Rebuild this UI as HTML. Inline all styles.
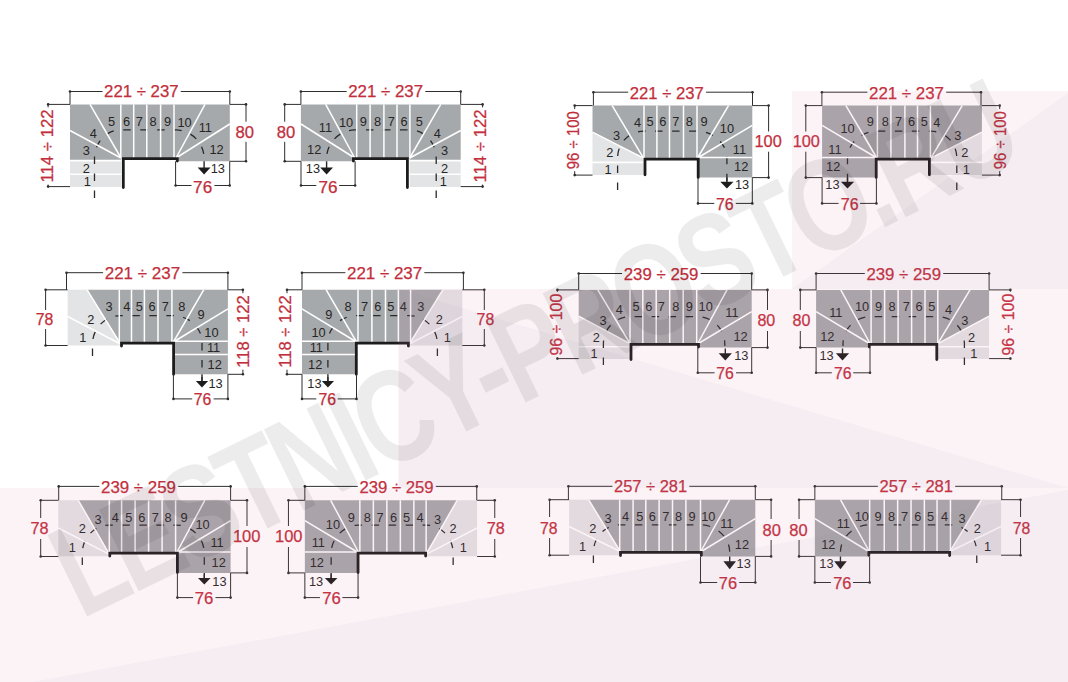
<!DOCTYPE html>
<html><head><meta charset="utf-8"><style>
html,body{margin:0;padding:0;background:#fff;}
svg{display:block;}
text{font-family:"Liberation Sans",sans-serif;}
.r{fill:#c22e3b;stroke:#c22e3b;stroke-width:0.25px;font-size:16.8px;}
.l{fill:#262626;font-size:12.8px;text-anchor:middle;}
</style></head><body>
<svg width="1068" height="682" viewBox="0 0 1068 682">
<rect width="1068" height="682" fill="#fff"/>
<polygon fill="#a6a9ab" points="70,104.4 229.8,104.4 229.8,161.3 176.5,161.3 176.5,158.5 121,158.5 121,159.8 70,159.8"/>
<polygon fill="#e3e4e5" points="70,161.5 121,161.5 121,173.4 70,173.4"/>
<polygon fill="#e3e4e5" points="70,175 121,175 121,186.9 70,186.9"/>
<path d="M94.5,198 L94.5,158 C94.5,143 106,129.9 121,129.9 L176,129.9 C191,129.9 204.1,143 204.1,158 L204.1,163" fill="none" stroke="#2a2a2a" stroke-width="1.3" stroke-dasharray="7.5 9.5"/>
<g stroke="#fff" stroke-width="1.5">
<line x1="121" y1="158" x2="70" y2="130.5"/>
<line x1="121" y1="158" x2="90" y2="104.4"/>
<line x1="176" y1="158" x2="205" y2="104.4"/>
<line x1="176" y1="158" x2="229.8" y2="124"/>
<line x1="120.8" y1="104.4" x2="120.8" y2="158"/>
<line x1="133.7" y1="104.4" x2="133.7" y2="158"/>
<line x1="146.8" y1="104.4" x2="146.8" y2="158"/>
<line x1="160.6" y1="104.4" x2="160.6" y2="158"/>
<line x1="174" y1="104.4" x2="174" y2="158"/>
</g>
<polyline fill="none" stroke="#1c1c1c" stroke-width="2.8" stroke-linecap="round" stroke-linejoin="miter" points="123.3,187.5 123.3,158.6 177.3,158.6 177.3,161"/>
<g stroke="#2e2e2e" stroke-width="1">
<line x1="70" y1="91.5" x2="102.5" y2="91.5"/>
<line x1="180.8" y1="91.5" x2="229.8" y2="91.5"/>
<line x1="70" y1="91.5" x2="70" y2="104.4"/>
<line x1="229.8" y1="91.5" x2="229.8" y2="104.4"/>
<line x1="48.1" y1="104.4" x2="48.1" y2="107.4"/>
<line x1="48.1" y1="184.6" x2="48.1" y2="186.6"/>
<line x1="48.1" y1="104.4" x2="70" y2="104.4"/>
<line x1="48.1" y1="186.6" x2="70" y2="186.6"/>
<line x1="246" y1="104.4" x2="246" y2="121.7"/>
<line x1="246" y1="141.8" x2="246" y2="161.3"/>
<line x1="246" y1="104.4" x2="229.8" y2="104.4"/>
<line x1="246" y1="161.3" x2="229.8" y2="161.3"/>
<line x1="175.6" y1="185.5" x2="191.5" y2="185.5"/>
<line x1="214.4" y1="185.5" x2="229.7" y2="185.5"/>
<line x1="175.6" y1="185.5" x2="175.6" y2="161.3"/>
<line x1="229.7" y1="185.5" x2="229.7" y2="161.3"/>
</g>
<circle cx="70" cy="91.5" r="1.3" fill="#2e2e2e"/>
<circle cx="229.8" cy="91.5" r="1.3" fill="#2e2e2e"/>
<circle cx="48.1" cy="104.4" r="1.3" fill="#2e2e2e"/>
<circle cx="48.1" cy="186.6" r="1.3" fill="#2e2e2e"/>
<circle cx="246" cy="104.4" r="1.3" fill="#2e2e2e"/>
<circle cx="246" cy="161.3" r="1.3" fill="#2e2e2e"/>
<circle cx="175.6" cy="185.5" r="1.3" fill="#2e2e2e"/>
<circle cx="229.7" cy="185.5" r="1.3" fill="#2e2e2e"/>
<line x1="204.1" y1="161.3" x2="204.1" y2="168.5" stroke="#262626" stroke-width="1.4"/>
<polygon fill="#1c1c1c" points="197.7,167.5 210.5,167.5 204.1,174.5"/>
<text x="87.3" y="186.25" class="l">1</text>
<text x="86.2" y="172.75" class="l">2</text>
<text x="86.2" y="155.05" class="l">3</text>
<text x="93.3" y="137.55" class="l">4</text>
<text x="111.5" y="126.05" class="l">5</text>
<text x="126.6" y="125.75" class="l">6</text>
<text x="139.4" y="125.75" class="l">7</text>
<text x="153.1" y="125.75" class="l">8</text>
<text x="167.5" y="125.75" class="l">9</text>
<text x="184.6" y="126.95" class="l">10</text>
<text x="205.3" y="132.35" class="l">11</text>
<text x="216.5" y="154.35" class="l">12</text>
<text x="217.8" y="173.05" class="l">13</text>
<text x="104.1" y="97.1" class="r" textLength="74.5" lengthAdjust="spacingAndGlyphs">221 ÷ 237</text>
<text transform="translate(53.1,182.6) rotate(-90)" class="r" textLength="73.2" lengthAdjust="spacingAndGlyphs">114 ÷ 122</text>
<text x="235.5" y="137.9" class="r" textLength="18.5" lengthAdjust="spacingAndGlyphs">80</text>
<text x="193.1" y="192.9" class="r" textLength="19.1" lengthAdjust="spacingAndGlyphs">76</text>
<polygon fill="#a6a9ab" points="460.7,104.4 300.9,104.4 300.9,161.3 354.2,161.3 354.2,158.5 409.7,158.5 409.7,159.8 460.7,159.8"/>
<polygon fill="#e3e4e5" points="460.7,161.5 409.7,161.5 409.7,173.4 460.7,173.4"/>
<polygon fill="#e3e4e5" points="460.7,175 409.7,175 409.7,186.9 460.7,186.9"/>
<path d="M436.2,198 L436.2,158 C436.2,143 424.7,129.9 409.7,129.9 L354.7,129.9 C339.7,129.9 326.6,143 326.6,158 L326.6,163" fill="none" stroke="#2a2a2a" stroke-width="1.3" stroke-dasharray="7.5 9.5"/>
<g stroke="#fff" stroke-width="1.5">
<line x1="409.7" y1="158" x2="460.7" y2="130.5"/>
<line x1="409.7" y1="158" x2="440.7" y2="104.4"/>
<line x1="354.7" y1="158" x2="325.7" y2="104.4"/>
<line x1="354.7" y1="158" x2="300.9" y2="124"/>
<line x1="409.9" y1="104.4" x2="409.9" y2="158"/>
<line x1="397" y1="104.4" x2="397" y2="158"/>
<line x1="383.9" y1="104.4" x2="383.9" y2="158"/>
<line x1="370.1" y1="104.4" x2="370.1" y2="158"/>
<line x1="356.7" y1="104.4" x2="356.7" y2="158"/>
</g>
<polyline fill="none" stroke="#1c1c1c" stroke-width="2.8" stroke-linecap="round" stroke-linejoin="miter" points="407.4,187.5 407.4,158.6 353.4,158.6 353.4,161"/>
<g stroke="#2e2e2e" stroke-width="1">
<line x1="460.7" y1="91.5" x2="425.3" y2="91.5"/>
<line x1="346.6" y1="91.5" x2="300.9" y2="91.5"/>
<line x1="460.7" y1="91.5" x2="460.7" y2="104.4"/>
<line x1="300.9" y1="91.5" x2="300.9" y2="104.4"/>
<line x1="482.6" y1="104.4" x2="482.6" y2="107.4"/>
<line x1="482.6" y1="184.6" x2="482.6" y2="186.6"/>
<line x1="482.6" y1="104.4" x2="460.7" y2="104.4"/>
<line x1="482.6" y1="186.6" x2="460.7" y2="186.6"/>
<line x1="284.7" y1="104.4" x2="284.7" y2="121.7"/>
<line x1="284.7" y1="141.8" x2="284.7" y2="161.3"/>
<line x1="284.7" y1="104.4" x2="300.9" y2="104.4"/>
<line x1="284.7" y1="161.3" x2="300.9" y2="161.3"/>
<line x1="355.1" y1="185.5" x2="339.2" y2="185.5"/>
<line x1="316.3" y1="185.5" x2="301" y2="185.5"/>
<line x1="355.1" y1="185.5" x2="355.1" y2="161.3"/>
<line x1="301" y1="185.5" x2="301" y2="161.3"/>
</g>
<circle cx="460.7" cy="91.5" r="1.3" fill="#2e2e2e"/>
<circle cx="300.9" cy="91.5" r="1.3" fill="#2e2e2e"/>
<circle cx="482.6" cy="104.4" r="1.3" fill="#2e2e2e"/>
<circle cx="482.6" cy="186.6" r="1.3" fill="#2e2e2e"/>
<circle cx="284.7" cy="104.4" r="1.3" fill="#2e2e2e"/>
<circle cx="284.7" cy="161.3" r="1.3" fill="#2e2e2e"/>
<circle cx="355.1" cy="185.5" r="1.3" fill="#2e2e2e"/>
<circle cx="301" cy="185.5" r="1.3" fill="#2e2e2e"/>
<line x1="326.6" y1="161.3" x2="326.6" y2="168.5" stroke="#262626" stroke-width="1.4"/>
<polygon fill="#1c1c1c" points="320.2,167.5 333,167.5 326.6,174.5"/>
<text x="443.4" y="186.25" class="l">1</text>
<text x="444.5" y="172.75" class="l">2</text>
<text x="444.5" y="155.05" class="l">3</text>
<text x="437.4" y="137.55" class="l">4</text>
<text x="419.2" y="126.05" class="l">5</text>
<text x="404.1" y="125.75" class="l">6</text>
<text x="391.3" y="125.75" class="l">7</text>
<text x="377.6" y="125.75" class="l">8</text>
<text x="363.2" y="125.75" class="l">9</text>
<text x="346.1" y="126.95" class="l">10</text>
<text x="325.4" y="132.35" class="l">11</text>
<text x="314.2" y="154.35" class="l">12</text>
<text x="312.9" y="173.05" class="l">13</text>
<text x="348.2" y="97.1" class="r" textLength="74.9" lengthAdjust="spacingAndGlyphs">221 ÷ 237</text>
<text transform="translate(486.3,182.6) rotate(-90)" class="r" textLength="73.2" lengthAdjust="spacingAndGlyphs">114 ÷ 122</text>
<text x="276.7" y="137.9" class="r" textLength="18.5" lengthAdjust="spacingAndGlyphs">80</text>
<text x="318.5" y="192.9" class="r" textLength="19.1" lengthAdjust="spacingAndGlyphs">76</text>
<polygon fill="#a6a9ab" points="592.5,105.6 752.3,105.6 752.3,177.6 698,177.6 698,159 643.5,159 643.5,158.2 592.5,132.1"/>
<polygon fill="#e3e4e5" points="592.5,132.1 643.5,158.2 643.5,161.6 592.5,161.6"/>
<polygon fill="#e3e4e5" points="592.5,163.3 643.5,163.3 643.5,175.1 592.5,175.1"/>
<path d="M617.6,190 L617.6,158 C617.6,143 629,131.2 643.5,131.2 L697.5,131.2 C712,131.2 726.9,143 726.9,158 L726.9,182" fill="none" stroke="#2a2a2a" stroke-width="1.3" stroke-dasharray="7.5 9.5"/>
<g stroke="#fff" stroke-width="1.5">
<line x1="592.5" y1="132.1" x2="643.5" y2="158.2"/>
<line x1="612.2" y1="105.6" x2="643.5" y2="158.2"/>
<line x1="697.5" y1="158" x2="728.5" y2="105.6"/>
<line x1="697.5" y1="158" x2="752.3" y2="125.3"/>
<line x1="697.5" y1="157.6" x2="752.3" y2="157.6"/>
<line x1="644" y1="105.6" x2="644" y2="158.5"/>
<line x1="656.9" y1="105.6" x2="656.9" y2="158.5"/>
<line x1="669.5" y1="105.6" x2="669.5" y2="158.5"/>
<line x1="683.5" y1="105.6" x2="683.5" y2="158.5"/>
<line x1="697" y1="105.6" x2="697" y2="158.5"/>
</g>
<polyline fill="none" stroke="#1c1c1c" stroke-width="2.8" stroke-linecap="round" stroke-linejoin="miter" points="645,174.8 645,159.2 698.2,159.2 698.2,177.4"/>
<g stroke="#2e2e2e" stroke-width="1">
<line x1="593.4" y1="92.2" x2="628.2" y2="92.2"/>
<line x1="706" y1="92.2" x2="752.5" y2="92.2"/>
<line x1="593.4" y1="92.2" x2="593.4" y2="105.6"/>
<line x1="752.5" y1="92.2" x2="752.5" y2="105.6"/>
<line x1="574.7" y1="105.6" x2="574.7" y2="109.1"/>
<line x1="574.7" y1="171.2" x2="574.7" y2="175.1"/>
<line x1="574.7" y1="105.6" x2="592.5" y2="105.6"/>
<line x1="574.7" y1="175.1" x2="592.5" y2="175.1"/>
<line x1="768.6" y1="105.6" x2="768.6" y2="131.5"/>
<line x1="768.6" y1="151.7" x2="768.6" y2="177.6"/>
<line x1="768.6" y1="105.6" x2="752.3" y2="105.6"/>
<line x1="768.6" y1="177.6" x2="752.3" y2="177.6"/>
<line x1="698" y1="203.4" x2="714.3" y2="203.4"/>
<line x1="735.8" y1="203.4" x2="752.3" y2="203.4"/>
<line x1="698" y1="203.4" x2="698" y2="177.6"/>
<line x1="752.3" y1="203.4" x2="752.3" y2="177.6"/>
</g>
<circle cx="593.4" cy="92.2" r="1.3" fill="#2e2e2e"/>
<circle cx="752.5" cy="92.2" r="1.3" fill="#2e2e2e"/>
<circle cx="574.7" cy="105.6" r="1.3" fill="#2e2e2e"/>
<circle cx="574.7" cy="175.1" r="1.3" fill="#2e2e2e"/>
<circle cx="768.6" cy="105.6" r="1.3" fill="#2e2e2e"/>
<circle cx="768.6" cy="177.6" r="1.3" fill="#2e2e2e"/>
<circle cx="698" cy="203.4" r="1.3" fill="#2e2e2e"/>
<circle cx="752.3" cy="203.4" r="1.3" fill="#2e2e2e"/>
<line x1="726.9" y1="177.6" x2="726.9" y2="182.8" stroke="#262626" stroke-width="1.4"/>
<polygon fill="#1c1c1c" points="720.3,181.8 733.5,181.8 726.9,188.5"/>
<text x="608" y="173.55" class="l">1</text>
<text x="609.7" y="156.85" class="l">2</text>
<text x="616.5" y="139.95" class="l">3</text>
<text x="637.6" y="127.35" class="l">4</text>
<text x="650.1" y="126.45" class="l">5</text>
<text x="662.8" y="126.45" class="l">6</text>
<text x="675.8" y="126.45" class="l">7</text>
<text x="689.2" y="126.45" class="l">8</text>
<text x="704.1" y="126.45" class="l">9</text>
<text x="726.9" y="133.25" class="l">10</text>
<text x="739.5" y="154.35" class="l">11</text>
<text x="741.2" y="171.15" class="l">12</text>
<text x="742" y="189.05" class="l">13</text>
<text x="629.8" y="98.7" class="r" textLength="74" lengthAdjust="spacingAndGlyphs">221 ÷ 237</text>
<text transform="translate(578.55,169.2) rotate(-90)" class="r" textLength="58.1" lengthAdjust="spacingAndGlyphs">96 ÷ 100</text>
<text x="754.5" y="146.8" class="r" textLength="27.2" lengthAdjust="spacingAndGlyphs">100</text>
<text x="715.9" y="210.3" class="r" textLength="17.7" lengthAdjust="spacingAndGlyphs">76</text>
<polygon fill="#a6a9ab" points="981.9,105.6 822.1,105.6 822.1,177.6 876.4,177.6 876.4,159 930.9,159 930.9,158.2 981.9,132.1"/>
<polygon fill="#e3e4e5" points="981.9,132.1 930.9,158.2 930.9,161.6 981.9,161.6"/>
<polygon fill="#e3e4e5" points="981.9,163.3 930.9,163.3 930.9,175.1 981.9,175.1"/>
<path d="M956.8,190 L956.8,158 C956.8,143 945.4,131.2 930.9,131.2 L876.9,131.2 C862.4,131.2 847.5,143 847.5,158 L847.5,182" fill="none" stroke="#2a2a2a" stroke-width="1.3" stroke-dasharray="7.5 9.5"/>
<g stroke="#fff" stroke-width="1.5">
<line x1="981.9" y1="132.1" x2="930.9" y2="158.2"/>
<line x1="962.2" y1="105.6" x2="930.9" y2="158.2"/>
<line x1="876.9" y1="158" x2="845.9" y2="105.6"/>
<line x1="876.9" y1="158" x2="822.1" y2="125.3"/>
<line x1="876.9" y1="157.6" x2="822.1" y2="157.6"/>
<line x1="930.4" y1="105.6" x2="930.4" y2="158.5"/>
<line x1="917.5" y1="105.6" x2="917.5" y2="158.5"/>
<line x1="904.9" y1="105.6" x2="904.9" y2="158.5"/>
<line x1="890.9" y1="105.6" x2="890.9" y2="158.5"/>
<line x1="877.4" y1="105.6" x2="877.4" y2="158.5"/>
</g>
<polyline fill="none" stroke="#1c1c1c" stroke-width="2.8" stroke-linecap="round" stroke-linejoin="miter" points="929.4,174.8 929.4,159.2 876.2,159.2 876.2,177.4"/>
<g stroke="#2e2e2e" stroke-width="1">
<line x1="981" y1="92.2" x2="946.2" y2="92.2"/>
<line x1="867.4" y1="92.2" x2="821.9" y2="92.2"/>
<line x1="981" y1="92.2" x2="981" y2="105.6"/>
<line x1="821.9" y1="92.2" x2="821.9" y2="105.6"/>
<line x1="999.7" y1="105.6" x2="999.7" y2="109.1"/>
<line x1="999.7" y1="171.2" x2="999.7" y2="175.1"/>
<line x1="999.7" y1="105.6" x2="981.9" y2="105.6"/>
<line x1="999.7" y1="175.1" x2="981.9" y2="175.1"/>
<line x1="805.8" y1="105.6" x2="805.8" y2="131.5"/>
<line x1="805.8" y1="151.7" x2="805.8" y2="177.6"/>
<line x1="805.8" y1="105.6" x2="822.1" y2="105.6"/>
<line x1="805.8" y1="177.6" x2="822.1" y2="177.6"/>
<line x1="876.4" y1="203.4" x2="860.1" y2="203.4"/>
<line x1="838.6" y1="203.4" x2="822.1" y2="203.4"/>
<line x1="876.4" y1="203.4" x2="876.4" y2="177.6"/>
<line x1="822.1" y1="203.4" x2="822.1" y2="177.6"/>
</g>
<circle cx="981" cy="92.2" r="1.3" fill="#2e2e2e"/>
<circle cx="821.9" cy="92.2" r="1.3" fill="#2e2e2e"/>
<circle cx="999.7" cy="105.6" r="1.3" fill="#2e2e2e"/>
<circle cx="999.7" cy="175.1" r="1.3" fill="#2e2e2e"/>
<circle cx="805.8" cy="105.6" r="1.3" fill="#2e2e2e"/>
<circle cx="805.8" cy="177.6" r="1.3" fill="#2e2e2e"/>
<circle cx="876.4" cy="203.4" r="1.3" fill="#2e2e2e"/>
<circle cx="822.1" cy="203.4" r="1.3" fill="#2e2e2e"/>
<line x1="847.5" y1="177.6" x2="847.5" y2="182.8" stroke="#262626" stroke-width="1.4"/>
<polygon fill="#1c1c1c" points="840.9,181.8 854.1,181.8 847.5,188.5"/>
<text x="966.4" y="173.55" class="l">1</text>
<text x="964.7" y="156.85" class="l">2</text>
<text x="957.9" y="139.95" class="l">3</text>
<text x="936.8" y="127.35" class="l">4</text>
<text x="924.3" y="126.45" class="l">5</text>
<text x="911.6" y="126.45" class="l">6</text>
<text x="898.6" y="126.45" class="l">7</text>
<text x="885.2" y="126.45" class="l">8</text>
<text x="870.3" y="126.45" class="l">9</text>
<text x="847.5" y="133.25" class="l">10</text>
<text x="834.9" y="154.35" class="l">11</text>
<text x="833.2" y="171.15" class="l">12</text>
<text x="832.4" y="189.05" class="l">13</text>
<text x="869" y="98.7" class="r" textLength="75" lengthAdjust="spacingAndGlyphs">221 ÷ 237</text>
<text transform="translate(1005.9,169.2) rotate(-90)" class="r" textLength="58.1" lengthAdjust="spacingAndGlyphs">96 ÷ 100</text>
<text x="792.7" y="146.8" class="r" textLength="27.2" lengthAdjust="spacingAndGlyphs">100</text>
<text x="840.8" y="210.3" class="r" textLength="17.7" lengthAdjust="spacingAndGlyphs">76</text>
<polygon fill="#e3e4e5" points="67.6,289.8 87.1,289.8 120.5,344 120.5,345.5 67.6,345.5"/>
<polygon fill="#a6a9ab" points="87.1,289.8 227.9,289.8 227.9,374.3 174,374.3 174,343 120.5,343"/>
<path d="M92.5,356 L92.5,344 C92.5,328.5 105,315.6 120.5,315.6 L173.4,315.6 C189,315.6 202,328 202,342 L202,381" fill="none" stroke="#2a2a2a" stroke-width="1.3" stroke-dasharray="7.5 9.5"/>
<g stroke="#fff" stroke-width="1.5">
<line x1="87.1" y1="289.8" x2="120.5" y2="344"/>
<line x1="67.6" y1="316.5" x2="120.5" y2="344"/>
<line x1="173.4" y1="342" x2="203.7" y2="289.8"/>
<line x1="173.4" y1="342" x2="227.9" y2="308.8"/>
<line x1="173.4" y1="341.3" x2="227.9" y2="341.3"/>
<line x1="173.4" y1="354.5" x2="227.9" y2="354.5"/>
<line x1="119.3" y1="289.8" x2="119.3" y2="343"/>
<line x1="131.5" y1="289.8" x2="131.5" y2="343"/>
<line x1="144.4" y1="289.8" x2="144.4" y2="343"/>
<line x1="158" y1="289.8" x2="158" y2="343"/>
<line x1="171.9" y1="289.8" x2="171.9" y2="343"/>
</g>
<polyline fill="none" stroke="#1c1c1c" stroke-width="2.8" stroke-linecap="round" stroke-linejoin="miter" points="121.5,346 121.5,343.2 173.6,343.2 173.6,374.3"/>
<g stroke="#2e2e2e" stroke-width="1">
<line x1="66.5" y1="272.7" x2="103.1" y2="272.7"/>
<line x1="182.4" y1="272.7" x2="227.9" y2="272.7"/>
<line x1="66.5" y1="272.7" x2="66.5" y2="289.8"/>
<line x1="227.9" y1="272.7" x2="227.9" y2="289.8"/>
<line x1="45.6" y1="289.8" x2="45.6" y2="310"/>
<line x1="45.6" y1="329" x2="45.6" y2="345.5"/>
<line x1="45.6" y1="289.8" x2="67.6" y2="289.8"/>
<line x1="45.6" y1="345.5" x2="67.6" y2="345.5"/>
<line x1="242.9" y1="289.8" x2="242.9" y2="293.2"/>
<line x1="242.9" y1="369.7" x2="242.9" y2="374.3"/>
<line x1="242.9" y1="289.8" x2="227.9" y2="289.8"/>
<line x1="242.9" y1="374.3" x2="227.9" y2="374.3"/>
<line x1="173.4" y1="398.9" x2="192.2" y2="398.9"/>
<line x1="213.6" y1="398.9" x2="227.9" y2="398.9"/>
<line x1="173.4" y1="398.9" x2="173.4" y2="374.3"/>
<line x1="227.9" y1="398.9" x2="227.9" y2="374.3"/>
</g>
<circle cx="66.5" cy="272.7" r="1.3" fill="#2e2e2e"/>
<circle cx="227.9" cy="272.7" r="1.3" fill="#2e2e2e"/>
<circle cx="45.6" cy="289.8" r="1.3" fill="#2e2e2e"/>
<circle cx="45.6" cy="345.5" r="1.3" fill="#2e2e2e"/>
<circle cx="242.9" cy="289.8" r="1.3" fill="#2e2e2e"/>
<circle cx="242.9" cy="374.3" r="1.3" fill="#2e2e2e"/>
<circle cx="173.4" cy="398.9" r="1.3" fill="#2e2e2e"/>
<circle cx="227.9" cy="398.9" r="1.3" fill="#2e2e2e"/>
<line x1="202" y1="374.3" x2="202" y2="381.9" stroke="#262626" stroke-width="1.4"/>
<polygon fill="#1c1c1c" points="195.9,380.9 208.1,380.9 202,387.5"/>
<text x="82.7" y="341.55" class="l">1</text>
<text x="90.7" y="323.95" class="l">2</text>
<text x="109.1" y="311.45" class="l">3</text>
<text x="126.7" y="311.45" class="l">4</text>
<text x="139.2" y="311.45" class="l">5</text>
<text x="152.1" y="311.05" class="l">6</text>
<text x="165.3" y="311.05" class="l">7</text>
<text x="181.8" y="311.45" class="l">8</text>
<text x="201.1" y="319.45" class="l">9</text>
<text x="211.4" y="337.05" class="l">10</text>
<text x="213.6" y="352.45" class="l">11</text>
<text x="214.7" y="368.95" class="l">12</text>
<text x="215.5" y="388.05" class="l">13</text>
<text x="104.7" y="278.5" class="r" textLength="75.5" lengthAdjust="spacingAndGlyphs">221 ÷ 237</text>
<text x="35.7" y="325.4" class="r" textLength="17.6" lengthAdjust="spacingAndGlyphs">78</text>
<text transform="translate(248.85,367.7) rotate(-90)" class="r" textLength="72.5" lengthAdjust="spacingAndGlyphs">118 ÷ 122</text>
<text x="193.8" y="405.2" class="r" textLength="17.6" lengthAdjust="spacingAndGlyphs">76</text>
<polygon fill="#e3e4e5" points="462.3,289.8 442.8,289.8 409.4,344 409.4,345.5 462.3,345.5"/>
<polygon fill="#a6a9ab" points="442.8,289.8 302,289.8 302,374.3 355.9,374.3 355.9,343 409.4,343"/>
<path d="M437.4,356 L437.4,344 C437.4,328.5 424.9,315.6 409.4,315.6 L356.5,315.6 C340.9,315.6 327.9,328 327.9,342 L327.9,381" fill="none" stroke="#2a2a2a" stroke-width="1.3" stroke-dasharray="7.5 9.5"/>
<g stroke="#fff" stroke-width="1.5">
<line x1="442.8" y1="289.8" x2="409.4" y2="344"/>
<line x1="462.3" y1="316.5" x2="409.4" y2="344"/>
<line x1="356.5" y1="342" x2="326.2" y2="289.8"/>
<line x1="356.5" y1="342" x2="302" y2="308.8"/>
<line x1="356.5" y1="341.3" x2="302" y2="341.3"/>
<line x1="356.5" y1="354.5" x2="302" y2="354.5"/>
<line x1="410.6" y1="289.8" x2="410.6" y2="343"/>
<line x1="398.4" y1="289.8" x2="398.4" y2="343"/>
<line x1="385.5" y1="289.8" x2="385.5" y2="343"/>
<line x1="371.9" y1="289.8" x2="371.9" y2="343"/>
<line x1="358" y1="289.8" x2="358" y2="343"/>
</g>
<polyline fill="none" stroke="#1c1c1c" stroke-width="2.8" stroke-linecap="round" stroke-linejoin="miter" points="408.4,346 408.4,343.2 356.3,343.2 356.3,374.3"/>
<g stroke="#2e2e2e" stroke-width="1">
<line x1="463.4" y1="272.7" x2="424.3" y2="272.7"/>
<line x1="345.4" y1="272.7" x2="302" y2="272.7"/>
<line x1="463.4" y1="272.7" x2="463.4" y2="289.8"/>
<line x1="302" y1="272.7" x2="302" y2="289.8"/>
<line x1="484.3" y1="289.8" x2="484.3" y2="310"/>
<line x1="484.3" y1="329" x2="484.3" y2="345.5"/>
<line x1="484.3" y1="289.8" x2="462.3" y2="289.8"/>
<line x1="484.3" y1="345.5" x2="462.3" y2="345.5"/>
<line x1="287" y1="289.8" x2="287" y2="293.2"/>
<line x1="287" y1="369.7" x2="287" y2="374.3"/>
<line x1="287" y1="289.8" x2="302" y2="289.8"/>
<line x1="287" y1="374.3" x2="302" y2="374.3"/>
<line x1="356.5" y1="398.9" x2="337.7" y2="398.9"/>
<line x1="316.3" y1="398.9" x2="302" y2="398.9"/>
<line x1="356.5" y1="398.9" x2="356.5" y2="374.3"/>
<line x1="302" y1="398.9" x2="302" y2="374.3"/>
</g>
<circle cx="463.4" cy="272.7" r="1.3" fill="#2e2e2e"/>
<circle cx="302" cy="272.7" r="1.3" fill="#2e2e2e"/>
<circle cx="484.3" cy="289.8" r="1.3" fill="#2e2e2e"/>
<circle cx="484.3" cy="345.5" r="1.3" fill="#2e2e2e"/>
<circle cx="287" cy="289.8" r="1.3" fill="#2e2e2e"/>
<circle cx="287" cy="374.3" r="1.3" fill="#2e2e2e"/>
<circle cx="356.5" cy="398.9" r="1.3" fill="#2e2e2e"/>
<circle cx="302" cy="398.9" r="1.3" fill="#2e2e2e"/>
<line x1="327.9" y1="374.3" x2="327.9" y2="381.9" stroke="#262626" stroke-width="1.4"/>
<polygon fill="#1c1c1c" points="321.8,380.9 334,380.9 327.9,387.5"/>
<text x="447.2" y="341.55" class="l">1</text>
<text x="439.2" y="323.95" class="l">2</text>
<text x="420.8" y="311.45" class="l">3</text>
<text x="403.2" y="311.45" class="l">4</text>
<text x="390.7" y="311.45" class="l">5</text>
<text x="377.8" y="311.05" class="l">6</text>
<text x="364.6" y="311.05" class="l">7</text>
<text x="348.1" y="311.45" class="l">8</text>
<text x="328.8" y="319.45" class="l">9</text>
<text x="318.5" y="337.05" class="l">10</text>
<text x="316.3" y="352.45" class="l">11</text>
<text x="315.2" y="368.95" class="l">12</text>
<text x="314.4" y="388.05" class="l">13</text>
<text x="347" y="278.5" class="r" textLength="75.1" lengthAdjust="spacingAndGlyphs">221 ÷ 237</text>
<text x="476.6" y="325.4" class="r" textLength="17.6" lengthAdjust="spacingAndGlyphs">78</text>
<text transform="translate(290.7,367.7) rotate(-90)" class="r" textLength="72.5" lengthAdjust="spacingAndGlyphs">118 ÷ 122</text>
<text x="318.5" y="405.2" class="r" textLength="17.6" lengthAdjust="spacingAndGlyphs">76</text>
<polygon fill="#a6a9ab" points="578.7,289.9 751.7,289.9 751.7,347.6 698,347.6 698,344.3 630,344.3 630,343.6 578.7,316.2"/>
<polygon fill="#e3e4e5" points="578.7,316.2 630,343.6 630,346 578.7,346"/>
<polygon fill="#e3e4e5" points="578.7,347.6 630,347.6 630,358.9 578.7,358.9"/>
<path d="M603.4,365 L603.4,344 C603.4,329 615,316.6 630,316.6 L697.5,316.6 C712.5,316.6 724.8,329 724.8,344 L724.8,346" fill="none" stroke="#2a2a2a" stroke-width="1.3" stroke-dasharray="7.5 9.5"/>
<g stroke="#fff" stroke-width="1.5">
<line x1="578.7" y1="316.2" x2="630" y2="343.6"/>
<line x1="597.8" y1="289.9" x2="630" y2="343.6"/>
<line x1="697.5" y1="344" x2="727" y2="289.9"/>
<line x1="697.5" y1="344" x2="751.7" y2="311.7"/>
<line x1="630" y1="289.9" x2="630" y2="344"/>
<line x1="642.8" y1="289.9" x2="642.8" y2="344"/>
<line x1="656.2" y1="289.9" x2="656.2" y2="344"/>
<line x1="669.7" y1="289.9" x2="669.7" y2="344"/>
<line x1="683.2" y1="289.9" x2="683.2" y2="344"/>
<line x1="696.7" y1="289.9" x2="696.7" y2="344"/>
</g>
<polyline fill="none" stroke="#1c1c1c" stroke-width="2.8" stroke-linecap="round" stroke-linejoin="miter" points="631,359.5 631,344.3 698.5,344.3 698.5,347"/>
<g stroke="#2e2e2e" stroke-width="1">
<line x1="578.7" y1="273.5" x2="622.1" y2="273.5"/>
<line x1="700.7" y1="273.5" x2="751.7" y2="273.5"/>
<line x1="578.7" y1="273.5" x2="578.7" y2="289.9"/>
<line x1="751.7" y1="273.5" x2="751.7" y2="289.9"/>
<line x1="557.4" y1="289.9" x2="557.4" y2="291.7"/>
<line x1="557.4" y1="357.5" x2="557.4" y2="358.6"/>
<line x1="557.4" y1="289.9" x2="578.7" y2="289.9"/>
<line x1="557.4" y1="358.6" x2="578.7" y2="358.6"/>
<line x1="767.5" y1="289.9" x2="767.5" y2="310"/>
<line x1="767.5" y1="331" x2="767.5" y2="347.6"/>
<line x1="767.5" y1="289.9" x2="751.7" y2="289.9"/>
<line x1="767.5" y1="347.6" x2="751.7" y2="347.6"/>
<line x1="697.8" y1="372.8" x2="714.6" y2="372.8"/>
<line x1="736" y1="372.8" x2="751.7" y2="372.8"/>
<line x1="697.8" y1="372.8" x2="697.8" y2="347.6"/>
<line x1="751.7" y1="372.8" x2="751.7" y2="347.6"/>
</g>
<circle cx="578.7" cy="273.5" r="1.3" fill="#2e2e2e"/>
<circle cx="751.7" cy="273.5" r="1.3" fill="#2e2e2e"/>
<circle cx="557.4" cy="289.9" r="1.3" fill="#2e2e2e"/>
<circle cx="557.4" cy="358.6" r="1.3" fill="#2e2e2e"/>
<circle cx="767.5" cy="289.9" r="1.3" fill="#2e2e2e"/>
<circle cx="767.5" cy="347.6" r="1.3" fill="#2e2e2e"/>
<circle cx="697.8" cy="372.8" r="1.3" fill="#2e2e2e"/>
<circle cx="751.7" cy="372.8" r="1.3" fill="#2e2e2e"/>
<line x1="725.3" y1="348.5" x2="725.3" y2="354.3" stroke="#262626" stroke-width="1.4"/>
<polygon fill="#1c1c1c" points="718.7,353.3 731.9,353.3 725.3,360.4"/>
<text x="594" y="358.45" class="l">1</text>
<text x="596.2" y="342.05" class="l">2</text>
<text x="603" y="325.25" class="l">3</text>
<text x="619.2" y="314.45" class="l">4</text>
<text x="636" y="311.25" class="l">5</text>
<text x="648.8" y="311.25" class="l">6</text>
<text x="661.4" y="311.25" class="l">7</text>
<text x="675.8" y="311.25" class="l">8</text>
<text x="689.3" y="311.25" class="l">9</text>
<text x="705.7" y="311.25" class="l">10</text>
<text x="732" y="316.65" class="l">11</text>
<text x="740.5" y="340.55" class="l">12</text>
<text x="741.3" y="360.15" class="l">13</text>
<text x="623.7" y="279.6" class="r" textLength="74.8" lengthAdjust="spacingAndGlyphs">239 ÷ 259</text>
<text transform="translate(561.6,355.5) rotate(-90)" class="r" textLength="61.8" lengthAdjust="spacingAndGlyphs">96 ÷ 100</text>
<text x="757.4" y="326.2" class="r" textLength="17.9" lengthAdjust="spacingAndGlyphs">80</text>
<text x="716.2" y="379" class="r" textLength="17.6" lengthAdjust="spacingAndGlyphs">76</text>
<polygon fill="#a6a9ab" points="989.1,289.9 816.1,289.9 816.1,347.6 869.8,347.6 869.8,344.3 937.8,344.3 937.8,343.6 989.1,316.2"/>
<polygon fill="#e3e4e5" points="989.1,316.2 937.8,343.6 937.8,346 989.1,346"/>
<polygon fill="#e3e4e5" points="989.1,347.6 937.8,347.6 937.8,358.9 989.1,358.9"/>
<path d="M964.4,365 L964.4,344 C964.4,329 952.8,316.6 937.8,316.6 L870.3,316.6 C855.3,316.6 843,329 843,344 L843,346" fill="none" stroke="#2a2a2a" stroke-width="1.3" stroke-dasharray="7.5 9.5"/>
<g stroke="#fff" stroke-width="1.5">
<line x1="989.1" y1="316.2" x2="937.8" y2="343.6"/>
<line x1="970" y1="289.9" x2="937.8" y2="343.6"/>
<line x1="870.3" y1="344" x2="840.8" y2="289.9"/>
<line x1="870.3" y1="344" x2="816.1" y2="311.7"/>
<line x1="937.8" y1="289.9" x2="937.8" y2="344"/>
<line x1="925" y1="289.9" x2="925" y2="344"/>
<line x1="911.6" y1="289.9" x2="911.6" y2="344"/>
<line x1="898.1" y1="289.9" x2="898.1" y2="344"/>
<line x1="884.6" y1="289.9" x2="884.6" y2="344"/>
<line x1="871.1" y1="289.9" x2="871.1" y2="344"/>
</g>
<polyline fill="none" stroke="#1c1c1c" stroke-width="2.8" stroke-linecap="round" stroke-linejoin="miter" points="936.8,359.5 936.8,344.3 869.3,344.3 869.3,347"/>
<g stroke="#2e2e2e" stroke-width="1">
<line x1="989.1" y1="273.5" x2="943.2" y2="273.5"/>
<line x1="864.8" y1="273.5" x2="816.1" y2="273.5"/>
<line x1="989.1" y1="273.5" x2="989.1" y2="289.9"/>
<line x1="816.1" y1="273.5" x2="816.1" y2="289.9"/>
<line x1="1010.4" y1="289.9" x2="1010.4" y2="291.7"/>
<line x1="1010.4" y1="357.5" x2="1010.4" y2="358.6"/>
<line x1="1010.4" y1="289.9" x2="989.1" y2="289.9"/>
<line x1="1010.4" y1="358.6" x2="989.1" y2="358.6"/>
<line x1="800.3" y1="289.9" x2="800.3" y2="310"/>
<line x1="800.3" y1="331" x2="800.3" y2="347.6"/>
<line x1="800.3" y1="289.9" x2="816.1" y2="289.9"/>
<line x1="800.3" y1="347.6" x2="816.1" y2="347.6"/>
<line x1="870" y1="372.8" x2="853.2" y2="372.8"/>
<line x1="831.8" y1="372.8" x2="816.1" y2="372.8"/>
<line x1="870" y1="372.8" x2="870" y2="347.6"/>
<line x1="816.1" y1="372.8" x2="816.1" y2="347.6"/>
</g>
<circle cx="989.1" cy="273.5" r="1.3" fill="#2e2e2e"/>
<circle cx="816.1" cy="273.5" r="1.3" fill="#2e2e2e"/>
<circle cx="1010.4" cy="289.9" r="1.3" fill="#2e2e2e"/>
<circle cx="1010.4" cy="358.6" r="1.3" fill="#2e2e2e"/>
<circle cx="800.3" cy="289.9" r="1.3" fill="#2e2e2e"/>
<circle cx="800.3" cy="347.6" r="1.3" fill="#2e2e2e"/>
<circle cx="870" cy="372.8" r="1.3" fill="#2e2e2e"/>
<circle cx="816.1" cy="372.8" r="1.3" fill="#2e2e2e"/>
<line x1="842.5" y1="348.5" x2="842.5" y2="354.3" stroke="#262626" stroke-width="1.4"/>
<polygon fill="#1c1c1c" points="835.9,353.3 849.1,353.3 842.5,360.4"/>
<text x="973.8" y="358.45" class="l">1</text>
<text x="971.6" y="342.05" class="l">2</text>
<text x="964.8" y="325.25" class="l">3</text>
<text x="948.6" y="314.45" class="l">4</text>
<text x="931.8" y="311.25" class="l">5</text>
<text x="919" y="311.25" class="l">6</text>
<text x="906.4" y="311.25" class="l">7</text>
<text x="892" y="311.25" class="l">8</text>
<text x="878.5" y="311.25" class="l">9</text>
<text x="862.1" y="311.25" class="l">10</text>
<text x="835.8" y="316.65" class="l">11</text>
<text x="827.3" y="340.55" class="l">12</text>
<text x="826.5" y="360.15" class="l">13</text>
<text x="866.4" y="279.6" class="r" textLength="74.6" lengthAdjust="spacingAndGlyphs">239 ÷ 259</text>
<text transform="translate(1013.8,355.5) rotate(-90)" class="r" textLength="61.8" lengthAdjust="spacingAndGlyphs">96 ÷ 100</text>
<text x="792.5" y="326.2" class="r" textLength="17.9" lengthAdjust="spacingAndGlyphs">80</text>
<text x="834" y="379" class="r" textLength="17.6" lengthAdjust="spacingAndGlyphs">76</text>
<polygon fill="#e3e4e5" points="58.3,500.3 78.3,500.3 109.3,554.3 109.3,556.2 58.3,556.2"/>
<polygon fill="#a6a9ab" points="78.3,500.3 230.6,500.3 230.6,572.9 177.4,572.9 177.4,553.1 109.3,553.1"/>
<path d="M82.3,565 L82.3,553 C82.3,538 94.3,525.1 109.3,525.1 L176.5,525.1 C191.5,525.1 204.3,538 204.3,553 L204.3,578" fill="none" stroke="#2a2a2a" stroke-width="1.3" stroke-dasharray="7.5 9.5"/>
<g stroke="#fff" stroke-width="1.5">
<line x1="78.3" y1="500.3" x2="109.3" y2="554.3"/>
<line x1="58.3" y1="528" x2="109.3" y2="554.3"/>
<line x1="176.5" y1="553" x2="204.8" y2="500.3"/>
<line x1="176.5" y1="553" x2="230.6" y2="520.6"/>
<line x1="176.5" y1="552" x2="230.6" y2="552"/>
<line x1="109.3" y1="500.3" x2="109.3" y2="553"/>
<line x1="121.6" y1="500.3" x2="121.6" y2="553"/>
<line x1="135.1" y1="500.3" x2="135.1" y2="553"/>
<line x1="148.6" y1="500.3" x2="148.6" y2="553"/>
<line x1="162.1" y1="500.3" x2="162.1" y2="553"/>
<line x1="175.6" y1="500.3" x2="175.6" y2="553"/>
</g>
<polyline fill="none" stroke="#1c1c1c" stroke-width="2.8" stroke-linecap="round" stroke-linejoin="miter" points="109.8,556 109.8,553.1 177.4,553.1 177.4,572.5"/>
<g stroke="#2e2e2e" stroke-width="1">
<line x1="58.7" y1="486.4" x2="99.4" y2="486.4"/>
<line x1="178.2" y1="486.4" x2="230.6" y2="486.4"/>
<line x1="58.7" y1="486.4" x2="58.7" y2="500.3"/>
<line x1="230.6" y1="486.4" x2="230.6" y2="500.3"/>
<line x1="40.7" y1="500.3" x2="40.7" y2="518"/>
<line x1="40.7" y1="539" x2="40.7" y2="556.5"/>
<line x1="40.7" y1="500.3" x2="58.3" y2="500.3"/>
<line x1="40.7" y1="556.5" x2="58.3" y2="556.5"/>
<line x1="247" y1="500.3" x2="247" y2="526"/>
<line x1="247" y1="547" x2="247" y2="572.9"/>
<line x1="247" y1="500.3" x2="230.6" y2="500.3"/>
<line x1="247" y1="572.9" x2="230.6" y2="572.9"/>
<line x1="177.4" y1="597.6" x2="193.1" y2="597.6"/>
<line x1="215.5" y1="597.6" x2="230.6" y2="597.6"/>
<line x1="177.4" y1="597.6" x2="177.4" y2="572.9"/>
<line x1="230.6" y1="597.6" x2="230.6" y2="572.9"/>
</g>
<circle cx="58.7" cy="486.4" r="1.3" fill="#2e2e2e"/>
<circle cx="230.6" cy="486.4" r="1.3" fill="#2e2e2e"/>
<circle cx="40.7" cy="500.3" r="1.3" fill="#2e2e2e"/>
<circle cx="40.7" cy="556.5" r="1.3" fill="#2e2e2e"/>
<circle cx="247" cy="500.3" r="1.3" fill="#2e2e2e"/>
<circle cx="247" cy="572.9" r="1.3" fill="#2e2e2e"/>
<circle cx="177.4" cy="597.6" r="1.3" fill="#2e2e2e"/>
<circle cx="230.6" cy="597.6" r="1.3" fill="#2e2e2e"/>
<line x1="204.3" y1="572.9" x2="204.3" y2="578.9" stroke="#262626" stroke-width="1.4"/>
<polygon fill="#1c1c1c" points="198,577.9 210.6,577.9 204.3,584.6"/>
<text x="72.2" y="552.05" class="l">1</text>
<text x="82.3" y="533.45" class="l">2</text>
<text x="98" y="523.55" class="l">3</text>
<text x="115.3" y="522.15" class="l">4</text>
<text x="128.8" y="522.15" class="l">5</text>
<text x="141.9" y="522.15" class="l">6</text>
<text x="155.3" y="522.15" class="l">7</text>
<text x="168.1" y="522.15" class="l">8</text>
<text x="184.1" y="522.15" class="l">9</text>
<text x="202.5" y="528.95" class="l">10</text>
<text x="217.1" y="546.95" class="l">11</text>
<text x="218.7" y="566.65" class="l">12</text>
<text x="219.4" y="585.55" class="l">13</text>
<text x="101" y="492.5" class="r" textLength="75" lengthAdjust="spacingAndGlyphs">239 ÷ 259</text>
<text x="30.6" y="534" class="r" textLength="18" lengthAdjust="spacingAndGlyphs">78</text>
<text x="232.9" y="542.3" class="r" textLength="27.6" lengthAdjust="spacingAndGlyphs">100</text>
<text x="194.7" y="603.8" class="r" textLength="18.6" lengthAdjust="spacingAndGlyphs">76</text>
<polygon fill="#e3e4e5" points="477.15,500.3 457.15,500.3 426.15,554.3 426.15,556.2 477.15,556.2"/>
<polygon fill="#a6a9ab" points="457.15,500.3 304.85,500.3 304.85,572.9 358.05,572.9 358.05,553.1 426.15,553.1"/>
<path d="M453.15,565 L453.15,553 C453.15,538 441.15,525.1 426.15,525.1 L358.95,525.1 C343.95,525.1 331.15,538 331.15,553 L331.15,578" fill="none" stroke="#2a2a2a" stroke-width="1.3" stroke-dasharray="7.5 9.5"/>
<g stroke="#fff" stroke-width="1.5">
<line x1="457.15" y1="500.3" x2="426.15" y2="554.3"/>
<line x1="477.15" y1="528" x2="426.15" y2="554.3"/>
<line x1="358.95" y1="553" x2="330.65" y2="500.3"/>
<line x1="358.95" y1="553" x2="304.85" y2="520.6"/>
<line x1="358.95" y1="552" x2="304.85" y2="552"/>
<line x1="426.15" y1="500.3" x2="426.15" y2="553"/>
<line x1="413.85" y1="500.3" x2="413.85" y2="553"/>
<line x1="400.35" y1="500.3" x2="400.35" y2="553"/>
<line x1="386.85" y1="500.3" x2="386.85" y2="553"/>
<line x1="373.35" y1="500.3" x2="373.35" y2="553"/>
<line x1="359.85" y1="500.3" x2="359.85" y2="553"/>
</g>
<polyline fill="none" stroke="#1c1c1c" stroke-width="2.8" stroke-linecap="round" stroke-linejoin="miter" points="425.65,556 425.65,553.1 358.05,553.1 358.05,572.5"/>
<g stroke="#2e2e2e" stroke-width="1">
<line x1="476.75" y1="486.4" x2="435.8" y2="486.4"/>
<line x1="357.8" y1="486.4" x2="304.85" y2="486.4"/>
<line x1="476.75" y1="486.4" x2="476.75" y2="500.3"/>
<line x1="304.85" y1="486.4" x2="304.85" y2="500.3"/>
<line x1="494.75" y1="500.3" x2="494.75" y2="518"/>
<line x1="494.75" y1="539" x2="494.75" y2="556.5"/>
<line x1="494.75" y1="500.3" x2="477.15" y2="500.3"/>
<line x1="494.75" y1="556.5" x2="477.15" y2="556.5"/>
<line x1="288.45" y1="500.3" x2="288.45" y2="526"/>
<line x1="288.45" y1="547" x2="288.45" y2="572.9"/>
<line x1="288.45" y1="500.3" x2="304.85" y2="500.3"/>
<line x1="288.45" y1="572.9" x2="304.85" y2="572.9"/>
<line x1="358.05" y1="597.6" x2="342.35" y2="597.6"/>
<line x1="319.95" y1="597.6" x2="304.85" y2="597.6"/>
<line x1="358.05" y1="597.6" x2="358.05" y2="572.9"/>
<line x1="304.85" y1="597.6" x2="304.85" y2="572.9"/>
</g>
<circle cx="476.75" cy="486.4" r="1.3" fill="#2e2e2e"/>
<circle cx="304.85" cy="486.4" r="1.3" fill="#2e2e2e"/>
<circle cx="494.75" cy="500.3" r="1.3" fill="#2e2e2e"/>
<circle cx="494.75" cy="556.5" r="1.3" fill="#2e2e2e"/>
<circle cx="288.45" cy="500.3" r="1.3" fill="#2e2e2e"/>
<circle cx="288.45" cy="572.9" r="1.3" fill="#2e2e2e"/>
<circle cx="358.05" cy="597.6" r="1.3" fill="#2e2e2e"/>
<circle cx="304.85" cy="597.6" r="1.3" fill="#2e2e2e"/>
<line x1="331.15" y1="572.9" x2="331.15" y2="578.9" stroke="#262626" stroke-width="1.4"/>
<polygon fill="#1c1c1c" points="324.85,577.9 337.45,577.9 331.15,584.6"/>
<text x="463.25" y="552.05" class="l">1</text>
<text x="453.15" y="533.45" class="l">2</text>
<text x="437.45" y="523.55" class="l">3</text>
<text x="420.15" y="522.15" class="l">4</text>
<text x="406.65" y="522.15" class="l">5</text>
<text x="393.55" y="522.15" class="l">6</text>
<text x="380.15" y="522.15" class="l">7</text>
<text x="367.35" y="522.15" class="l">8</text>
<text x="351.35" y="522.15" class="l">9</text>
<text x="332.95" y="528.95" class="l">10</text>
<text x="318.35" y="546.95" class="l">11</text>
<text x="316.75" y="566.65" class="l">12</text>
<text x="316.05" y="585.55" class="l">13</text>
<text x="359.4" y="492.5" class="r" textLength="74.2" lengthAdjust="spacingAndGlyphs">239 ÷ 259</text>
<text x="486.85" y="534" class="r" textLength="18" lengthAdjust="spacingAndGlyphs">78</text>
<text x="274.95" y="542.3" class="r" textLength="27.6" lengthAdjust="spacingAndGlyphs">100</text>
<text x="322.15" y="603.8" class="r" textLength="18.6" lengthAdjust="spacingAndGlyphs">76</text>
<polygon fill="#e3e4e5" points="569.1,499.7 588.6,499.7 620.2,551.5 620.2,555.2 569.1,555.2"/>
<polygon fill="#a6a9ab" points="588.6,499.7 755.3,499.7 755.3,556.4 701,556.4 701,552.3 620.2,552.3"/>
<path d="M593.4,563 L593.4,552 C593.4,537 605.5,524.8 620.2,524.8 L700.5,524.8 C715.5,524.8 729.7,537 729.7,552 L729.7,561" fill="none" stroke="#2a2a2a" stroke-width="1.3" stroke-dasharray="7.5 9.5"/>
<g stroke="#fff" stroke-width="1.5">
<line x1="588.6" y1="499.7" x2="620.2" y2="551.5"/>
<line x1="569.1" y1="526.5" x2="620.2" y2="551.5"/>
<line x1="700.5" y1="552" x2="729.7" y2="499.7"/>
<line x1="700.5" y1="552" x2="755.3" y2="518.7"/>
<line x1="619.7" y1="499.7" x2="619.7" y2="552"/>
<line x1="633.1" y1="499.7" x2="633.1" y2="552"/>
<line x1="645.8" y1="499.7" x2="645.8" y2="552"/>
<line x1="659.1" y1="499.7" x2="659.1" y2="552"/>
<line x1="672.5" y1="499.7" x2="672.5" y2="552"/>
<line x1="685.9" y1="499.7" x2="685.9" y2="552"/>
<line x1="700.5" y1="499.7" x2="700.5" y2="552"/>
</g>
<polyline fill="none" stroke="#1c1c1c" stroke-width="2.8" stroke-linecap="round" stroke-linejoin="miter" points="620.5,555.5 620.5,552.4 701.3,552.4 701.3,555.3"/>
<g stroke="#2e2e2e" stroke-width="1">
<line x1="568.4" y1="486.3" x2="612.5" y2="486.3"/>
<line x1="689.3" y1="486.3" x2="755.3" y2="486.3"/>
<line x1="568.4" y1="486.3" x2="568.4" y2="499.7"/>
<line x1="755.3" y1="486.3" x2="755.3" y2="499.7"/>
<line x1="549.6" y1="499.7" x2="549.6" y2="517"/>
<line x1="549.6" y1="538" x2="549.6" y2="555.2"/>
<line x1="549.6" y1="499.7" x2="569.1" y2="499.7"/>
<line x1="549.6" y1="555.2" x2="569.1" y2="555.2"/>
<line x1="771.1" y1="499.7" x2="771.1" y2="519"/>
<line x1="771.1" y1="540" x2="771.1" y2="556.4"/>
<line x1="771.1" y1="499.7" x2="755.3" y2="499.7"/>
<line x1="771.1" y1="556.4" x2="755.3" y2="556.4"/>
<line x1="700.5" y1="582.5" x2="717.2" y2="582.5"/>
<line x1="739.2" y1="582.5" x2="755.3" y2="582.5"/>
<line x1="700.5" y1="582.5" x2="700.5" y2="556.4"/>
<line x1="755.3" y1="582.5" x2="755.3" y2="556.4"/>
</g>
<circle cx="568.4" cy="486.3" r="1.3" fill="#2e2e2e"/>
<circle cx="755.3" cy="486.3" r="1.3" fill="#2e2e2e"/>
<circle cx="549.6" cy="499.7" r="1.3" fill="#2e2e2e"/>
<circle cx="549.6" cy="555.2" r="1.3" fill="#2e2e2e"/>
<circle cx="771.1" cy="499.7" r="1.3" fill="#2e2e2e"/>
<circle cx="771.1" cy="556.4" r="1.3" fill="#2e2e2e"/>
<circle cx="700.5" cy="582.5" r="1.3" fill="#2e2e2e"/>
<circle cx="755.3" cy="582.5" r="1.3" fill="#2e2e2e"/>
<line x1="729.7" y1="556.4" x2="729.7" y2="562.3" stroke="#262626" stroke-width="1.4"/>
<polygon fill="#1c1c1c" points="723.4,561.3 736,561.3 729.7,569.3"/>
<text x="582.5" y="551.25" class="l">1</text>
<text x="592.9" y="532.95" class="l">2</text>
<text x="608" y="523.25" class="l">3</text>
<text x="625.6" y="521.25" class="l">4</text>
<text x="639.7" y="521.25" class="l">5</text>
<text x="652.3" y="521.25" class="l">6</text>
<text x="665.7" y="521.25" class="l">7</text>
<text x="678.6" y="521.25" class="l">8</text>
<text x="692" y="521.25" class="l">9</text>
<text x="708.3" y="521.25" class="l">10</text>
<text x="726.8" y="528.15" class="l">11</text>
<text x="741.9" y="548.75" class="l">12</text>
<text x="743.7" y="568.35" class="l">13</text>
<text x="614.1" y="492.4" class="r" textLength="73" lengthAdjust="spacingAndGlyphs">257 ÷ 281</text>
<text x="539.9" y="533.7" class="r" textLength="17.5" lengthAdjust="spacingAndGlyphs">78</text>
<text x="762.6" y="535.6" class="r" textLength="18.3" lengthAdjust="spacingAndGlyphs">80</text>
<text x="718.8" y="588.7" class="r" textLength="18.2" lengthAdjust="spacingAndGlyphs">76</text>
<polygon fill="#e3e4e5" points="1001.05,499.7 981.55,499.7 949.95,551.5 949.95,555.2 1001.05,555.2"/>
<polygon fill="#a6a9ab" points="981.55,499.7 814.85,499.7 814.85,556.4 869.15,556.4 869.15,552.3 949.95,552.3"/>
<path d="M976.75,563 L976.75,552 C976.75,537 964.65,524.8 949.95,524.8 L869.65,524.8 C854.65,524.8 840.45,537 840.45,552 L840.45,561" fill="none" stroke="#2a2a2a" stroke-width="1.3" stroke-dasharray="7.5 9.5"/>
<g stroke="#fff" stroke-width="1.5">
<line x1="981.55" y1="499.7" x2="949.95" y2="551.5"/>
<line x1="1001.05" y1="526.5" x2="949.95" y2="551.5"/>
<line x1="869.65" y1="552" x2="840.45" y2="499.7"/>
<line x1="869.65" y1="552" x2="814.85" y2="518.7"/>
<line x1="950.45" y1="499.7" x2="950.45" y2="552"/>
<line x1="937.05" y1="499.7" x2="937.05" y2="552"/>
<line x1="924.35" y1="499.7" x2="924.35" y2="552"/>
<line x1="911.05" y1="499.7" x2="911.05" y2="552"/>
<line x1="897.65" y1="499.7" x2="897.65" y2="552"/>
<line x1="884.25" y1="499.7" x2="884.25" y2="552"/>
<line x1="869.65" y1="499.7" x2="869.65" y2="552"/>
</g>
<polyline fill="none" stroke="#1c1c1c" stroke-width="2.8" stroke-linecap="round" stroke-linejoin="miter" points="949.65,555.5 949.65,552.4 868.85,552.4 868.85,555.3"/>
<g stroke="#2e2e2e" stroke-width="1">
<line x1="1001.75" y1="486.3" x2="955.2" y2="486.3"/>
<line x1="877.9" y1="486.3" x2="814.85" y2="486.3"/>
<line x1="1001.75" y1="486.3" x2="1001.75" y2="499.7"/>
<line x1="814.85" y1="486.3" x2="814.85" y2="499.7"/>
<line x1="1020.55" y1="499.7" x2="1020.55" y2="517"/>
<line x1="1020.55" y1="538" x2="1020.55" y2="555.2"/>
<line x1="1020.55" y1="499.7" x2="1001.05" y2="499.7"/>
<line x1="1020.55" y1="555.2" x2="1001.05" y2="555.2"/>
<line x1="799.05" y1="499.7" x2="799.05" y2="519"/>
<line x1="799.05" y1="540" x2="799.05" y2="556.4"/>
<line x1="799.05" y1="499.7" x2="814.85" y2="499.7"/>
<line x1="799.05" y1="556.4" x2="814.85" y2="556.4"/>
<line x1="869.65" y1="582.5" x2="852.95" y2="582.5"/>
<line x1="830.95" y1="582.5" x2="814.85" y2="582.5"/>
<line x1="869.65" y1="582.5" x2="869.65" y2="556.4"/>
<line x1="814.85" y1="582.5" x2="814.85" y2="556.4"/>
</g>
<circle cx="1001.75" cy="486.3" r="1.3" fill="#2e2e2e"/>
<circle cx="814.85" cy="486.3" r="1.3" fill="#2e2e2e"/>
<circle cx="1020.55" cy="499.7" r="1.3" fill="#2e2e2e"/>
<circle cx="1020.55" cy="555.2" r="1.3" fill="#2e2e2e"/>
<circle cx="799.05" cy="499.7" r="1.3" fill="#2e2e2e"/>
<circle cx="799.05" cy="556.4" r="1.3" fill="#2e2e2e"/>
<circle cx="869.65" cy="582.5" r="1.3" fill="#2e2e2e"/>
<circle cx="814.85" cy="582.5" r="1.3" fill="#2e2e2e"/>
<line x1="840.45" y1="556.4" x2="840.45" y2="562.3" stroke="#262626" stroke-width="1.4"/>
<polygon fill="#1c1c1c" points="834.15,561.3 846.75,561.3 840.45,569.3"/>
<text x="987.65" y="551.25" class="l">1</text>
<text x="977.25" y="532.95" class="l">2</text>
<text x="962.15" y="523.25" class="l">3</text>
<text x="944.55" y="521.25" class="l">4</text>
<text x="930.45" y="521.25" class="l">5</text>
<text x="917.85" y="521.25" class="l">6</text>
<text x="904.45" y="521.25" class="l">7</text>
<text x="891.55" y="521.25" class="l">8</text>
<text x="878.15" y="521.25" class="l">9</text>
<text x="861.85" y="521.25" class="l">10</text>
<text x="843.35" y="528.15" class="l">11</text>
<text x="828.25" y="548.75" class="l">12</text>
<text x="826.45" y="568.35" class="l">13</text>
<text x="879.5" y="492.4" class="r" textLength="73.5" lengthAdjust="spacingAndGlyphs">257 ÷ 281</text>
<text x="1012.75" y="533.7" class="r" textLength="17.5" lengthAdjust="spacingAndGlyphs">78</text>
<text x="789.25" y="535.6" class="r" textLength="18.3" lengthAdjust="spacingAndGlyphs">80</text>
<text x="833.15" y="588.7" class="r" textLength="18.2" lengthAdjust="spacingAndGlyphs">76</text>
<g>
<polygon fill="#dc72a1" fill-opacity="0.085" points="792,91 1068,91 1068,93 792,289"/>
<polygon fill="#b46993" fill-opacity="0.12" points="1068,93 1068,289 792,289"/>
<polygon fill="#dc72a1" fill-opacity="0.085" points="398.5,289 1068,289 1068,488"/>
<polygon fill="#b46993" fill-opacity="0.12" points="398.5,289 1068,488 398.5,488"/>
<polygon fill="#dc72a1" fill-opacity="0.085" points="0,488 1068,488 1068,490 32.4,682 0,682"/>
<polygon fill="#b46993" fill-opacity="0.12" points="1068,490 1068,682 32.4,682"/>
</g>
<text transform="translate(81,619.4) rotate(-26) scale(0.78,1)" font-family="Liberation Sans" font-weight="bold" font-size="132" fill="#000" fill-opacity="0.075" textLength="1351" lengthAdjust="spacing">LESTNICY-PROSTO.RU</text>
</svg>
</body></html>
